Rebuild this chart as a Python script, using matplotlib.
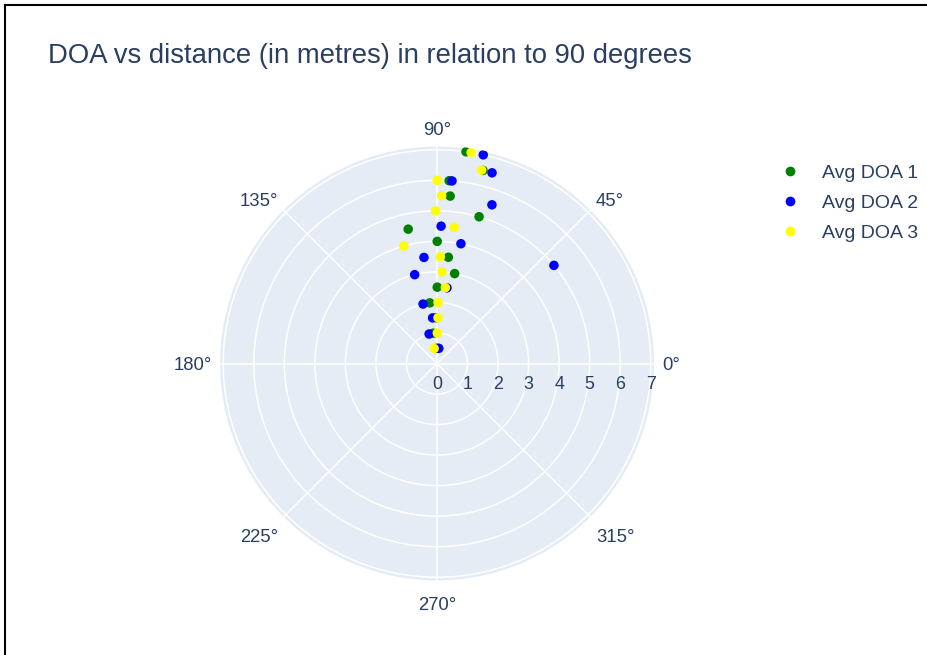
import numpy as np
import matplotlib
matplotlib.use("Agg")
import matplotlib.pyplot as plt
from matplotlib.lines import Line2D

# Data (distance in metres, DOA angle in degrees)
distance = [0.5, 1.0, 1.5, 2.0, 2.5, 3.0, 3.5, 4.0, 4.5, 5.0, 5.5, 6.0, 6.5, 7.0]
avg_doa_1 = [90.0, 97.0, 91.0, 96.8, 89.8, 78.9, 83.9, 89.9, 102.1, 74.0, 85.5, 86.2, 76.6, 82.2]
avg_doa_2 = [83.2, 105.0, 95.5, 103.2, 82.5, 104.1, 97.0, 78.7, 88.3, 40.0, 70.9, 85.3, 73.9, 77.5]
avg_doa_3 = [100.8, 89.4, 88.7, 89.0, 83.7, 86.8, 88.2, 105.8, 82.8, 90.5, 88.4, 89.9, 77.0, 80.8]
series_names = ["Avg DOA 1", "Avg DOA 2", "Avg DOA 3"]
series_colors = ["green", "blue", "yellow"]
angle_ticks = [0, 45, 90, 135, 180, 225, 270, 315]
radial_ticks = [0, 1, 2, 3, 4, 5, 6, 7]
title = "DOA vs distance (in metres) in relation to 90 degrees"

plt.rcParams['font.family'] = ['Liberation Sans', 'DejaVu Sans']
text_color = "#2a3f5f"

W, H = 928, 655
fig = plt.figure(figsize=(W / 100, H / 100), dpi=100)
fig.patch.set_facecolor("white")

cx, cy, R = 437, 363.5, 218
rmax = 7.14
ax = fig.add_axes([(cx - R) / W, (H - cy - R) / H, 2 * R / W, 2 * R / H], projection='polar')
ax.set_facecolor("#E5ECF6")

for vals, name, col in zip([avg_doa_1, avg_doa_2, avg_doa_3], series_names, series_colors):
    ax.scatter(np.deg2rad(vals), distance, s=47, c=col, label=name, edgecolors='none', zorder=3)

ax.set_ylim(0, rmax)
ax.set_yticks(radial_ticks)
ax.set_yticklabels([])
ax.set_thetagrids(angle_ticks, [""] * len(angle_ticks))
ax.grid(True, color="white", linewidth=1.1)
ax.spines['polar'].set_color("white")
ax.spines['polar'].set_linewidth(1.5)

# angular tick labels, placed like plotly (anchored just outside the edge)
pad_pt = 5.0
for a in angle_ticks:
    c, s = np.cos(np.deg2rad(a)), np.sin(np.deg2rad(a))
    ha = 'left' if c > 0.1 else ('right' if c < -0.1 else 'center')
    va = 'bottom' if s > 0.9 else ('top' if s < -0.9 else 'center')
    dy = pad_pt * s
    if s > 0.9:
        dy += 0.0
    elif s < -0.9:
        dy -= 5.8
    elif s > 0.1:
        dy += 2.2
    elif s < -0.1:
        dy -= 10.9
    else:
        dy -= 1.5
    ax.annotate(f"{a}°", xy=(np.deg2rad(a), rmax), xytext=(pad_pt * c, dy),
                textcoords='offset points', ha=ha, va=va, fontsize=13.3, color=text_color,
                annotation_clip=False)

for r in radial_ticks:
    ax.annotate(str(r), xy=(0, r), xytext=(0, -9), textcoords='offset points',
                ha='center', va='top', fontsize=12.8, color=text_color, annotation_clip=False)

fig.text(48 / W, 1 - 56 / H, title, fontsize=19.8, color=text_color, ha='left', va='center')

handles = [Line2D([0], [0], marker='o', linestyle='none', markersize=7, markerfacecolor=c,
                  markeredgecolor='none') for c in series_colors]
fig.legend(handles, series_names, loc='upper left', bbox_to_anchor=(761 / W, 1 - 147 / H),
           frameon=False, fontsize=14, labelcolor=text_color, handletextpad=1.05,
           labelspacing=0.63, handlelength=1.2)

# screenshot border
fig.add_artist(Line2D([4.5 / W, 4.5 / W], [0, 1 - 4.5 / H], transform=fig.transFigure, color='black', lw=1.5))
fig.add_artist(Line2D([4.5 / W, 1], [1 - 4.5 / H, 1 - 4.5 / H], transform=fig.transFigure, color='black', lw=1.5))

fig.savefig("out.png", dpi=100)
